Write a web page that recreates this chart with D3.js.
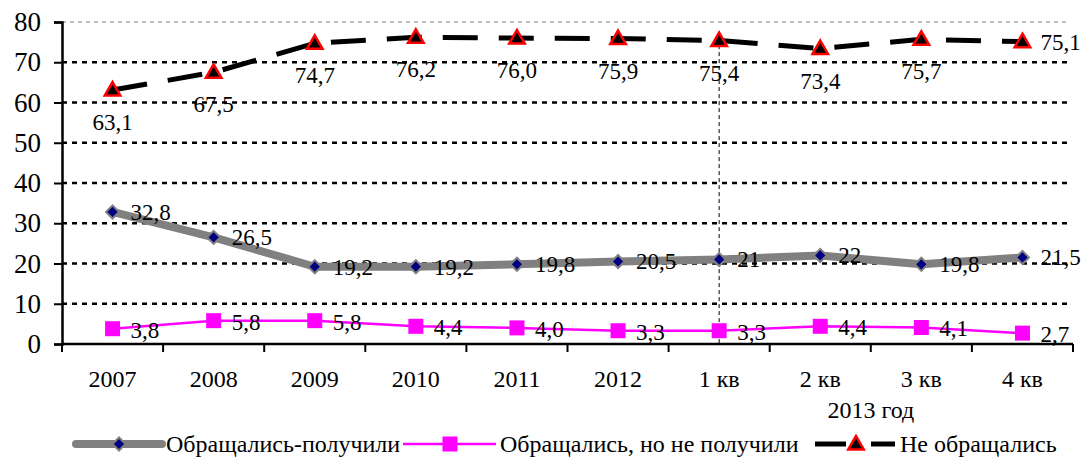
<!DOCTYPE html>
<html>
<head>
<meta charset="utf-8">
<script src="https://cdn.jsdelivr.net/npm/d3@7"></script>
<style>
  body { margin: 0; background: #fff; }
  svg text { font-family: "Liberation Serif", "Times New Roman", serif; fill: #000; }
</style>
</head>
<body>
<div id="chart"></div>
<script>
// datos
const categories = ["2007", "2008", "2009", "2010", "2011", "2012", "1 кв", "2 кв", "3 кв", "4 кв"];
const gotHelp = [32.8, 26.5, 19.2, 19.2, 19.8, 20.5, 21, 22, 19.8, 21.5];
const noHelp = [3.8, 5.8, 5.8, 4.4, 4.0, 3.3, 3.3, 4.4, 4.1, 2.7];
const notAsked = [63.1, 67.5, 74.7, 76.2, 76.0, 75.9, 75.4, 73.4, 75.7, 75.1];
const yTicks = [0, 10, 20, 30, 40, 50, 60, 70, 80];
const seriesNames = ["Обращались-получили", "Обращались, но не получили", "Не обращались"];
const groupLabel = "2013 год";

const width = 1092;
const height = 461;
const margin = { top: 22, bottom: 117, left: 62, right: 19 };
const innerW = width - margin.left - margin.right;
const innerH = height - margin.top - margin.bottom;
const serif = "Liberation Serif";

const svg = d3
  .select("div#chart")
  .append("svg")
  .attr("width", width)
  .attr("height", height)
  .attr("font-family", serif);

const g = svg.append("g").attr("transform", `translate(${margin.left}, ${margin.top})`);

// escalas
const x = d3.scaleBand().domain(categories).range([0, innerW]);
const y = d3.scaleLinear().domain([0, 80]).range([innerH, 0]);
const cx = (d) => x(d) + x.bandwidth() / 2;

// rejilla
g.selectAll("line.grid")
  .data(yTicks.filter((t) => t > 0))
  .enter()
  .append("line")
  .attr("class", "grid")
  .attr("x1", 0)
  .attr("x2", innerW - 6)
  .attr("y1", (d) => y(d))
  .attr("y2", (d) => y(d))
  .attr("stroke", (d) => (d == 80 ? "#808080" : "#000"))
  .attr("stroke-width", (d) => (d == 80 ? 1 : 2.5))
  .attr("stroke-dasharray", (d) => (d == 80 ? "4,4" : "5,5"));

// linea vertical 2013
g.append("line")
  .attr("x1", cx("1 кв"))
  .attr("x2", cx("1 кв"))
  .attr("y1", y(76))
  .attr("y2", y(0))
  .attr("stroke", "#000")
  .attr("stroke-width", 1)
  .attr("stroke-dasharray", "4,3");

// eje Y
const yAxis = d3.axisLeft(y).tickValues(yTicks).tickSize(8).tickPadding(13);
const yAxisGroup = g.append("g").call(yAxis).attr("font-family", serif).attr("font-size", 27);
yAxisGroup.select(".domain").attr("stroke-width", 2.5);
yAxisGroup.selectAll(".tick line").attr("stroke-width", 2);

// eje X (marcas entre categorias)
const xAxisGroup = g.append("g").attr("transform", `translate(0, ${innerH})`);
xAxisGroup.append("line").attr("x1", 0).attr("x2", innerW).attr("stroke", "#000").attr("stroke-width", 2.5);
const edges = categories.map((d) => x(d)).concat([innerW]);
xAxisGroup
  .selectAll("line.tk")
  .data(edges)
  .enter()
  .append("line")
  .attr("class", "tk")
  .attr("x1", (d) => d)
  .attr("x2", (d) => d)
  .attr("y1", 0)
  .attr("y2", 8)
  .attr("stroke", "#000")
  .attr("stroke-width", 2);
xAxisGroup
  .selectAll("text.lbl")
  .data(categories)
  .enter()
  .append("text")
  .attr("class", "lbl")
  .attr("x", (d) => cx(d))
  .attr("y", 43)
  .attr("text-anchor", "middle")
  .attr("font-size", 24)
  .text((d) => d);
xAxisGroup
  .append("text")
  .attr("x", (cx("1 кв") + cx("4 кв")) / 2)
  .attr("y", 74)
  .attr("text-anchor", "middle")
  .attr("font-size", 24)
  .text(groupLabel);

const comma = (d) => d.toFixed(1).replace(".", ",");
const plain = (d) => (Number.isInteger(d) ? String(d) : comma(d));

const line = d3
  .line()
  .x((d, i) => cx(categories[i]))
  .y((d) => y(d));

// serie 1: gris gruesa
g.append("path")
  .datum(gotHelp)
  .attr("d", line)
  .attr("fill", "none")
  .attr("stroke", "#808080")
  .attr("stroke-width", 8)
  .attr("stroke-linejoin", "round");

// serie 2: magenta
g.append("path")
  .datum(noHelp)
  .attr("d", line)
  .attr("fill", "none")
  .attr("stroke", "#ff00ff")
  .attr("stroke-width", 2.5);

// serie 3: negra discontinua
g.append("path")
  .datum(notAsked)
  .attr("d", line)
  .attr("fill", "none")
  .attr("stroke", "#000")
  .attr("stroke-width", 5)
  .attr("stroke-dasharray", "35,21");

const diamond = d3.symbol().type(d3.symbolSquare).size(85);
const square = d3.symbol().type(d3.symbolSquare).size(225);
const triangle = d3.symbol().type(d3.symbolTriangle).size(105);

g.selectAll("path.dia")
  .data(gotHelp)
  .enter()
  .append("path")
  .attr("class", "dia")
  .attr("d", diamond)
  .attr("transform", (d, i) => `translate(${cx(categories[i])}, ${y(d)}) rotate(45)`)
  .attr("fill", "#000080")
  .attr("stroke", "#808080")
  .attr("stroke-width", 2);

g.selectAll("path.sq")
  .data(noHelp)
  .enter()
  .append("path")
  .attr("class", "sq")
  .attr("d", square)
  .attr("transform", (d, i) => `translate(${cx(categories[i])}, ${y(d)})`)
  .attr("fill", "#ff00ff");

g.selectAll("path.tri")
  .data(notAsked)
  .enter()
  .append("path")
  .attr("class", "tri")
  .attr("d", triangle)
  .attr("transform", (d, i) => `translate(${cx(categories[i])}, ${y(d) + 1})`)
  .attr("fill", "#000")
  .attr("stroke", "#ff0000")
  .attr("stroke-width", 2.5);

// etiquetas
g.selectAll("text.l1")
  .data(gotHelp)
  .enter()
  .append("text")
  .attr("class", "l1")
  .attr("x", (d, i) => cx(categories[i]) + 18)
  .attr("y", (d) => y(d) + 8)
  .attr("font-size", 23)
  .text(plain);

g.selectAll("text.l2")
  .data(noHelp)
  .enter()
  .append("text")
  .attr("class", "l2")
  .attr("x", (d, i) => cx(categories[i]) + 18)
  .attr("y", (d) => y(d) + 9)
  .attr("font-size", 23)
  .text(comma);

g.selectAll("text.l3")
  .data(notAsked)
  .enter()
  .append("text")
  .attr("class", "l3")
  .attr("x", (d, i) => (i == notAsked.length - 1 ? cx(categories[i]) + 18 : cx(categories[i])))
  .attr("y", (d, i) => (i == notAsked.length - 1 ? y(d) + 8 : y(d) + 40))
  .attr("text-anchor", (d, i) => (i == notAsked.length - 1 ? "start" : "middle"))
  .attr("font-size", 23)
  .text(comma);

// leyenda
const legend = svg.append("g").attr("transform", "translate(0, 444)");

legend.append("line").attr("x1", 76).attr("x2", 162).attr("stroke", "#808080").attr("stroke-width", 8)
  .attr("stroke-linecap", "round");
legend.append("path").attr("d", diamond).attr("transform", "translate(119, 0) rotate(45)")
  .attr("fill", "#000080").attr("stroke", "#808080").attr("stroke-width", 2);
legend.append("text").attr("x", 166).attr("y", 8).attr("font-size", 24).text(seriesNames[0]);

legend.append("line").attr("x1", 403).attr("x2", 496).attr("stroke", "#ff00ff").attr("stroke-width", 2.5);
legend.append("path").attr("d", square).attr("transform", "translate(450, 0)").attr("fill", "#ff00ff");
legend.append("text").attr("x", 500).attr("y", 8).attr("font-size", 24).text(seriesNames[1]);

legend.append("line").attr("x1", 815).attr("x2", 846).attr("stroke", "#000").attr("stroke-width", 5);
legend.append("line").attr("x1", 871).attr("x2", 895).attr("stroke", "#000").attr("stroke-width", 5);
legend.append("path").attr("d", triangle).attr("transform", "translate(856, 1)")
  .attr("fill", "#000").attr("stroke", "#ff0000").attr("stroke-width", 2.5);
legend.append("text").attr("x", 900).attr("y", 8).attr("font-size", 24).text(seriesNames[2]);
</script>
</body>
</html>
